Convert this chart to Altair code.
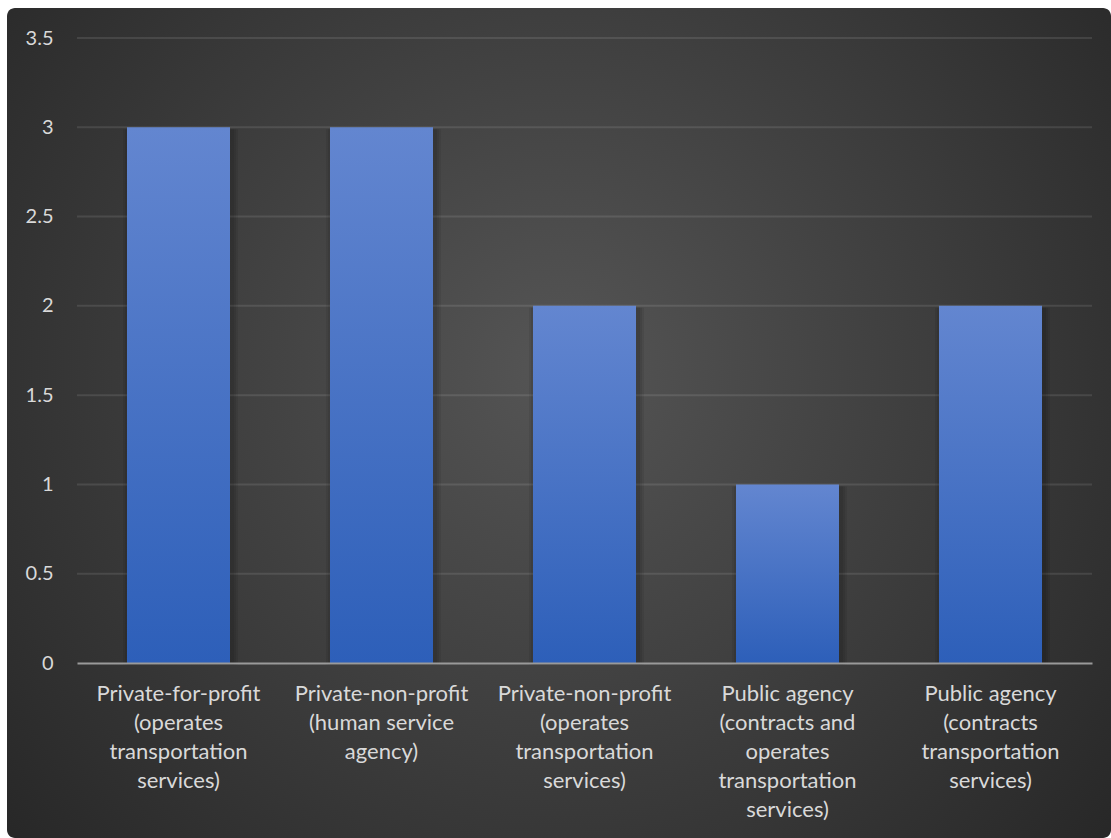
import altair as alt
import pandas as pd

categories = [
    "Private-for-profit (operates transportation services)",
    "Private-non-profit (human service agency)",
    "Private-non-profit (operates transportation services)",
    "Public agency (contracts and operates transportation services)",
    "Public agency (contracts transportation services)",
]
label_lines = [
    "Private-for-profit|(operates|transportation|services)",
    "Private-non-profit|(human service|agency)",
    "Private-non-profit|(operates|transportation|services)",
    "Public agency|(contracts and|operates|transportation|services)",
    "Public agency|(contracts|transportation|services)",
]
values = [3, 3, 2, 1, 2]
y_ticks = [0, 0.5, 1, 1.5, 2, 2.5, 3, 3.5]

df = pd.DataFrame({"category": categories, "label": label_lines, "value": values})
grid_df = pd.DataFrame({"value": y_ticks[1:]})
expr_map = "{" + ",".join(f"'{c}':'{l}'" for c, l in zip(categories, label_lines)) + "}"

FONT = "Lato"
TXT = "#d9d9d9"

x_enc = alt.X("category:N", sort=categories,
              scale=alt.Scale(paddingInner=0.4926, paddingOuter=0.2463),
              axis=alt.Axis(title=None, labelAngle=0, zindex=1,
                            labelExpr="split(" + expr_map + "[datum.label], '|')",
                            labelFont=FONT, labelFontSize=22, labelColor=TXT,
                            labelLineHeight=29, labelPadding=20, labelBaseline="top",
                            ticks=False, domain=True, domainColor="#9a9a9a",
                            domainWidth=2, grid=False, labelLimit=300))
y_enc = alt.Y("value:Q", scale=alt.Scale(domain=[0, 3.5], nice=False),
              axis=alt.Axis(title=None, values=y_ticks, format="~g", labelFont=FONT,
                            zindex=1, labelFontSize=20, labelColor=TXT,
                            labelPadding=24, ticks=False, domain=False, grid=False))

bg = alt.Chart(alt.Data(values=[{}])).mark_rect(
    cornerRadius=8,
    color=alt.Gradient(
        gradient="radial",
        stops=[alt.GradientStop(color="#555555", offset=0),
               alt.GradientStop(color="#232323", offset=1)],
        x1=0.5, y1=0.45, x2=0.5, y2=0.45, r1=0, r2=0.72,
    ),
).encode(
    x=alt.value(-70), x2=alt.value(1034), y=alt.value(-30), y2=alt.value(800)
)

grid = alt.Chart(grid_df).mark_rule(color="#ffffff", opacity=0.1, strokeWidth=2).encode(
    y=alt.Y("value:Q")
)

shadows = [
    alt.Chart(df).mark_bar(color="black", opacity=0.07,
                           width=alt.RelativeBandSize((103 + k) / 103),
                           xOffset=2, yOffset=2).encode(x=x_enc, y=y_enc)
    for k in (4, 8, 12)
]

bars = alt.Chart(df).mark_bar(
    color=alt.Gradient(
        gradient="linear",
        stops=[alt.GradientStop(color="#6386d0", offset=0),
               alt.GradientStop(color="#2d5fb9", offset=1)],
        x1=0, x2=0, y1=0, y2=1,
    )
).encode(x=x_enc, y=y_enc)

chart = alt.layer(bg, grid, *shadows, bars).properties(
    width=1015, height=625,
    autosize=alt.AutoSizeParams(type="none"),
    padding={"left": 77, "top": 38, "right": 19, "bottom": 175},
    background="white",
).configure_view(stroke=None)

chart.save("out.html", embed_options={"renderer": "svg", "actions": False})
